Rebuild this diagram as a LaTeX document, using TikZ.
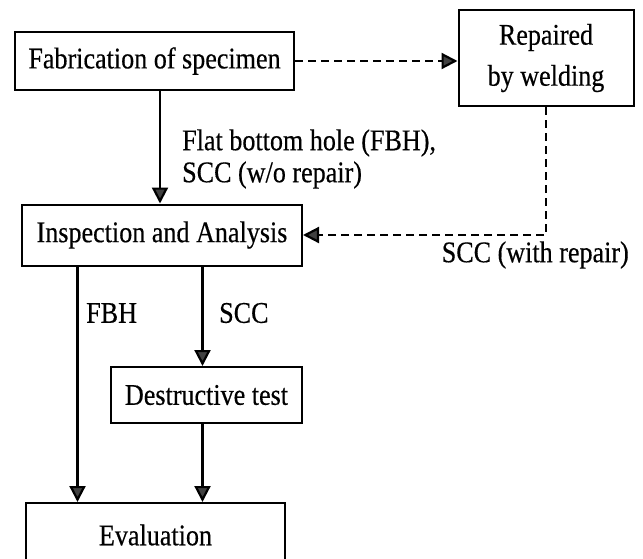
\documentclass[tikz,border=0pt]{standalone}
\usepackage{fontspec}
\setmainfont{Liberation Serif}[FakeStretch=0.87,FakeBold=0.4]
\usetikzlibrary{arrows.meta}
\begin{document}
\begin{tikzpicture}[x=1pt,y=-1pt,
  every node/.style={font=\fontsize{30pt}{32pt}\selectfont},
  box/.style={draw, line width=2pt, rectangle, inner sep=0pt, align=center},
  lbl/.style={inner sep=0pt},
  arr/.style={line width=2.2pt, -{Triangle[width=16pt,length=16pt,fill=black!75]}},
  darr/.style={arr, dash pattern=on 8pt off 5pt}
]
\clip (0,0) rectangle (643,558);
\fill[white] (0,0) rectangle (643,558);

\node[box, minimum width=279pt, minimum height=58pt] (fab) at (154.5,61) {Fabrication of specimen};
\node[box, minimum width=175pt, minimum height=96pt] (rep) at (546,58) {Repaired\\[9pt]by welding};
\node[box, minimum width=280pt, minimum height=61pt] (insp) at (162,235) {Inspection and Analysis};
\node[box, minimum width=191pt, minimum height=56pt] (dest) at (206.5,395) {Destructive test};
\node[box, minimum width=259pt, minimum height=64pt] (eval) at (155.5,535) {Evaluation};

\coordinate (xa) at (160,0);
\coordinate (xb) at (77.5,0);
\coordinate (xc) at (202.5,0);

\draw[arr] (fab.south -| xa) -- (insp.north -| xa);
\draw[darr] (fab.east) -- (rep.west |- fab.east);
\draw[darr] (rep.south) |- (insp.east);
\draw[arr] (insp.south -| xb) -- (eval.north -| xb);
\draw[arr] (insp.south -| xc) -- (dest.north -| xc);
\draw[arr] (dest.south -| xc) -- (eval.north -| xc);

\node[lbl, anchor=west, align=left] (l1) at (182,159) {Flat bottom hole (FBH),\\SCC (w/o repair)};
\node[lbl, anchor=west] (l2) at (86,313) {FBH};
\node[lbl, anchor=west] (l3) at (219,313) {SCC};
\node[lbl, anchor=east] (l4) at (629,255) {SCC (with repair)};
\end{tikzpicture}
\end{document}
